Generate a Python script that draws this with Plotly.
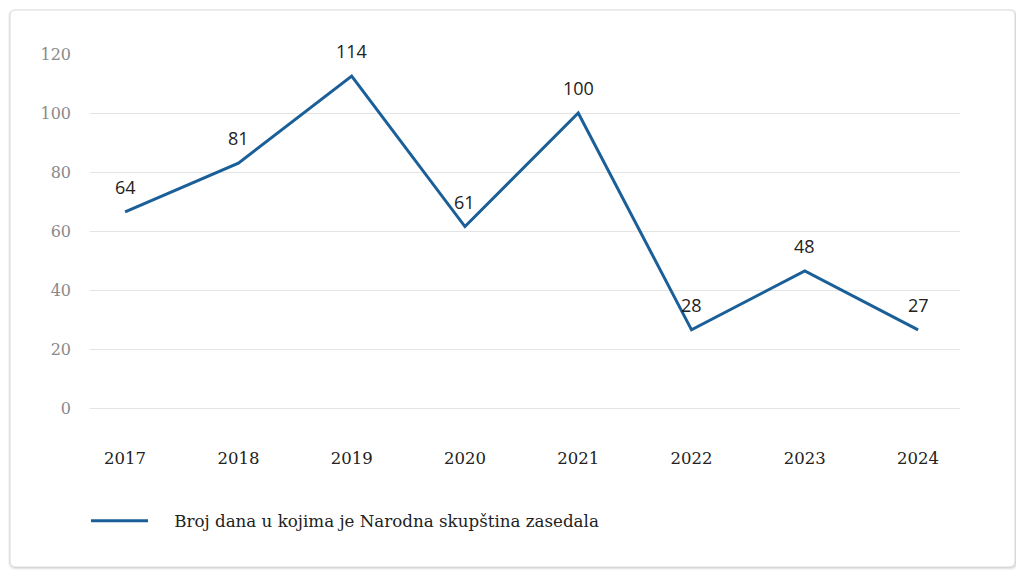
import plotly.graph_objects as go

years = ["2017", "2018", "2019", "2020", "2021", "2022", "2023", "2024"]
values = [66.5, 83, 112.5, 61.5, 100, 26.5, 46.5, 26.5]
labels = ["64", "81", "114", "61", "100", "28", "48", "27"]
y_ticks = [0, 20, 40, 60, 80, 100, 120]
series_name = "Broj dana u kojima je Narodna skupština zasedala"

OFF = 8  # page body margin
W, H = 1016, 568
L, R, T, B = 90 - OFF, 64, 54 - OFF, 168
pw, ph = W - L - R, H - T - B

def px(x):
    return (x - OFF - L) / pw

def py(y):
    return (H - B - (y - OFF)) / ph

xs = list(range(len(years)))

fig = go.Figure()
fig.add_trace(go.Scatter(
    x=xs, y=values, mode="lines", name="\u00a0" * 4 + series_name,
    line=dict(color="#1a5f98", width=3),
    hoverinfo="skip",
))

for i, (v, t) in enumerate(zip(values, labels)):
    fig.add_annotation(x=i, y=v, text=t, showarrow=False, yshift=25,
                       font=dict(family="Open Sans", size=18, color="#222222"))

def rounded(x0, y0, x1, y1, r):
    X0, X1 = px(x0), px(x1)
    Y0, Y1 = py(y0), py(y1)
    rx, ry = r / pw, r / ph
    return (f"M{X0+rx},{Y0} L{X1-rx},{Y0} Q{X1},{Y0} {X1},{Y0-ry} "
            f"L{X1},{Y1+ry} Q{X1},{Y1} {X1-rx},{Y1} L{X0+rx},{Y1} "
            f"Q{X0},{Y1} {X0},{Y1+ry} L{X0},{Y0-ry} Q{X0},{Y0} {X0+rx},{Y0} Z")

shapes = []
for off, col in [(3, "rgba(0,0,0,0.04)"), (2, "rgba(0,0,0,0.06)"), (1, "rgba(0,0,0,0.08)")]:
    shapes.append(dict(type="path", xref="paper", yref="paper", layer="below",
                       path=rounded(10 - off + 1, 10 - off + 2, 1015 + off, 567 + off, 7),
                       fillcolor=col, line=dict(width=0)))
shapes.append(dict(type="path", xref="paper", yref="paper", layer="below",
                   path=rounded(10, 10, 1015, 567, 6),
                   fillcolor="white", line=dict(color="#dcdcdc", width=1)))

fig.update_layout(
    width=W, height=H,
    margin=dict(l=L, r=R, t=T, b=B),
    paper_bgcolor="white", plot_bgcolor="rgba(0,0,0,0)",
    shapes=shapes,
    showlegend=True,
    legend=dict(orientation="h", x=px(86), xanchor="left", y=py(521), yanchor="middle",
                font=dict(family="DejaVu Serif", size=16.7, color="#222222"),
                itemwidth=57, bgcolor="rgba(0,0,0,0)"),
    xaxis=dict(
        range=[-0.31, 7.37], tickmode="array", tickvals=xs, ticktext=years,
        showgrid=False, zeroline=False, showline=False, ticks="",
        ticklabelstandoff=38,
        tickfont=dict(family="DejaVu Serif", size=16.5, color="#222222"),
    ),
    yaxis=dict(
        range=[0, 120], tickmode="array", tickvals=y_ticks,
        showgrid=True, gridcolor="#e4e4e4", gridwidth=1,
        zeroline=True, zerolinecolor="#e4e4e4", zerolinewidth=1,
        showline=False, ticks="", ticklabelstandoff=18,
        tickfont=dict(family="DejaVu Serif", size=16, color="#8a8a8a"),
    ),
)

fig.write_html("out.html")
